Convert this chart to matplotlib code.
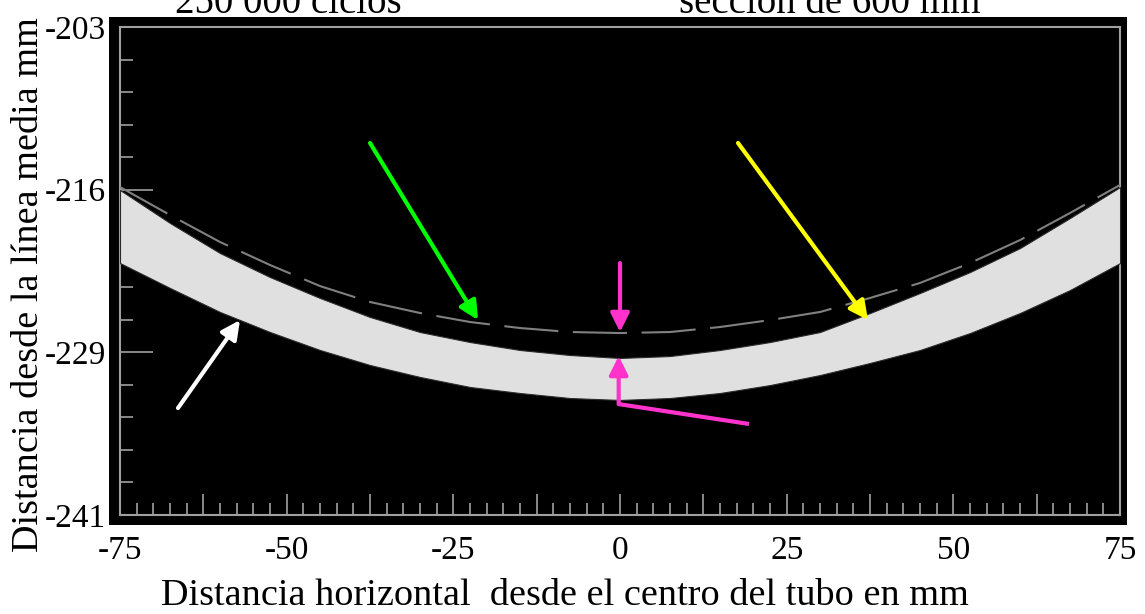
import matplotlib.pyplot as plt
from matplotlib.patches import Rectangle
import numpy as np

# horizontal positions (mm from tube centre)
x_mm = [-75, -67.5, -60, -52.5, -45, -37.5, -30, -22.5, -15, -7.5, 0,
        7.5, 15, 22.5, 30, 37.5, 45, 52.5, 60, 67.5, 75]

# upper and lower surface of the light band, and the dashed reference line
band_top = [-215.69, -218.26, -220.60, -222.47, -224.10, -225.58, -226.75, -227.53, -228.15, -228.54, -228.77,
            -228.62, -228.15, -227.53, -226.75, -225.27, -223.71, -222.08, -220.21, -217.87, -215.46]
band_bottom = [-221.38, -223.32, -225.19, -226.75, -228.15, -229.32, -230.25, -231.03, -231.50, -231.89, -232.04,
               -231.89, -231.50, -230.88, -230.10, -229.16, -228.15, -226.83, -225.27, -223.48, -221.38]
dashed_line = [-215.46, -217.64, -219.74, -221.53, -223.17, -224.41, -225.27, -225.97, -226.44, -226.75, -226.83,
               -226.75, -226.36, -225.82, -225.19, -224.10, -222.93, -221.38, -219.59, -217.48, -215.30]

x_ticks = [-75, -62.5, -50, -37.5, -25, -12.5, 0, 12.5, 25, 37.5, 50, 62.5, 75]
x_ticklabels = ["-75", "", "-50", "", "-25", "", "0", "", "25", "", "50", "", "75"]
y_ticklabels = ["-241", "-229", "-216", "-203"]

# arrows: (tail, head, colour)
arrows = [
    ((-37.5, -212.03), (-21.3, -225.82), "#00ff00"),
    ((17.7, -212.03), (37.2, -225.82), "#ffff00"),
    ((-66.3, -232.67), (-57.0, -225.82), "#ffffff"),
    ((0.0, -221.38), (0.0, -226.75), "#ff33cc"),
]
# magenta bent arrow: end of tail, corner, tip
bent_arrow = [(19.35, -233.91), (-0.2, -232.36), (-0.2, -228.62)]

plt.rcParams['font.family'] = ['Liberation Serif', 'DejaVu Serif']

fig = plt.figure(figsize=(11.45, 6.14), dpi=100)
fig.patch.set_facecolor("white")

# black surround behind the plot frame
fig.patches.append(Rectangle((0.0952, 0.1450), 0.8891, 0.8274, transform=fig.transFigure,
                             facecolor="black", edgecolor="none", zorder=-5))

ax = fig.add_axes([0.1048, 0.1612, 0.8734, 0.7948])
ax.set_zorder(1)
ax.set_facecolor("black")
ax.set_xlim(-75, 75)
ax.set_ylim(-241, -203)
ax.set_axisbelow(True)

ax.fill_between(x_mm, band_bottom, band_top, facecolor="#e0e0e0", edgecolor="#2a2a2a",
                linewidth=0.8, zorder=3)
ax.plot(x_mm, dashed_line, color="#808080", linewidth=1.5, linestyle=(0, (26, 7)), zorder=4)

head = "-|>,head_length=0.8,head_width=0.4"
for (x0, y0), (x1, y1), col in arrows:
    ax.annotate("", xy=(x1, y1), xytext=(x0, y0),
                arrowprops=dict(arrowstyle=head, color=col,
                                lw=3, mutation_scale=14, shrinkA=0, shrinkB=0), zorder=5)

bx = [p[0] for p in bent_arrow]
by = [p[1] for p in bent_arrow]
ax.plot(bx[:2], by[:2], color="#ff33cc", lw=3, solid_capstyle="butt", zorder=5)
ax.annotate("", xy=(bx[2], by[2]), xytext=(bx[1], by[1]),
            arrowprops=dict(arrowstyle=head, color="#ff33cc",
                            lw=3, mutation_scale=14, shrinkA=0, shrinkB=0), zorder=5)

# frame and ticks
for side in ["left", "right", "top", "bottom"]:
    ax.spines[side].set_color("#a0a0a0")
    ax.spines[side].set_linewidth(1.5)

ax.set_xticks(x_ticks)
ax.set_xticklabels(x_ticklabels)
ax.set_xticks(np.arange(-75, 75.1, 2.5), minor=True)
ax.set_yticks(np.linspace(-241, -203, 4))
ax.set_yticklabels(y_ticklabels)
ax.set_yticks(np.linspace(-241, -203, 16), minor=True)

ax.tick_params(axis="x", which="major", direction="in", length=15, width=1.2, color="#a0a0a0",
               labelsize=24, pad=15)
ax.tick_params(axis="x", which="minor", direction="in", length=8.5, width=1.2, color="#a0a0a0")
ax.tick_params(axis="y", which="major", direction="in", length=24, width=1.2, color="#a0a0a0",
               labelsize=24, pad=10)
ax.tick_params(axis="y", which="minor", direction="in", length=9.5, width=1.2, color="#a0a0a0")

fig.text(0.2515, 0.9788, "250 000 ciclos", fontsize=28, ha="center", va="baseline")
fig.text(0.725, 0.9788, "sección de 600 mm", fontsize=28, ha="center", va="baseline")
fig.text(0.4935, 0.0147, "Distancia horizontal  desde el centro del tubo en mm", fontsize=27.5,
         ha="center", va="baseline")
fig.text(0.025, 0.537, "Distancia desde la línea media mm", fontsize=27.5, rotation=90,
         ha="center", va="center")

fig.savefig("out.png", dpi=100, facecolor="white")
